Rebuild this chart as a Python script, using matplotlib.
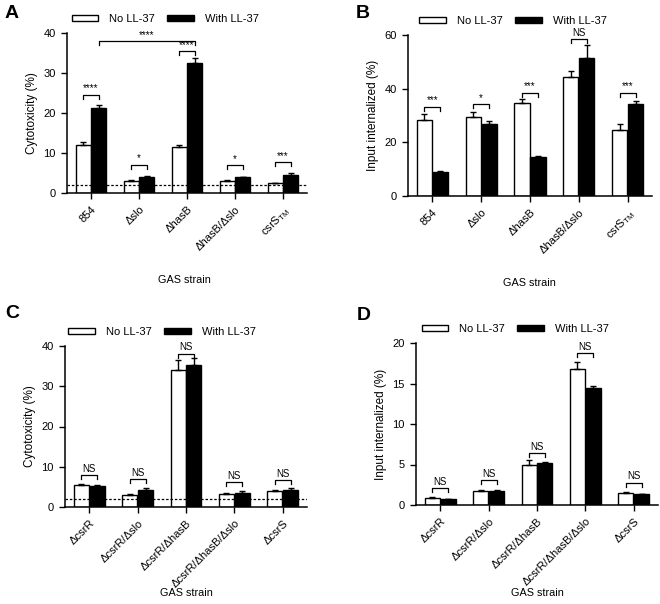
import numpy as np
import matplotlib
matplotlib.use("Agg")
from matplotlib import pyplot as plt
from matplotlib.patches import Patch

plt.rcParams["font.family"] = ["Liberation Sans", "DejaVu Sans"]
plt.rcParams["font.size"] = 7.5
plt.rcParams["axes.linewidth"] = 1.1

# Data
strains_ab = ["854", "Δslo", "ΔhasB", "ΔhasB/Δslo", "csrS$_{\\mathregular{TM}}$"]
strains_cd = ["ΔcsrR", "ΔcsrR/Δslo", "ΔcsrR/ΔhasB", "ΔcsrR/ΔhasB/Δslo", "ΔcsrS"]

a_no = [12.0, 3.1, 11.4, 3.1, 2.4]
a_no_err = [0.8, 0.2, 0.5, 0.2, 0.2]
a_with = [21.2, 4.0, 32.5, 3.9, 4.6]
a_with_err = [0.7, 0.2, 1.3, 0.2, 0.4]
a_sig = ["****", "*", "****", "*", "***"]
a_sig_y = [24.6, 7.1, 35.4, 6.9, 7.7]

b_no = [28.3, 29.6, 34.5, 44.5, 24.6]
b_no_err = [2.2, 1.7, 1.6, 2.0, 2.2]
b_with = [9.1, 26.7, 14.4, 51.5, 34.3]
b_with_err = [0.3, 1.1, 0.5, 4.6, 1.0]
b_sig = ["***", "*", "***", "NS", "***"]
b_sig_y = [33.3, 34.3, 38.5, 58.4, 38.5]

c_no = [5.5, 3.0, 34.0, 3.2, 4.0]
c_no_err = [0.2, 0.15, 2.4, 0.2, 0.1]
c_with = [5.2, 4.3, 35.2, 3.5, 4.3]
c_with_err = [0.2, 0.4, 1.8, 0.4, 0.4]
c_sig = ["NS", "NS", "NS", "NS", "NS"]
c_sig_y = [7.9, 7.0, 38.1, 6.2, 6.6]

d_no = [0.9, 1.7, 4.9, 16.8, 1.5]
d_no_err = [0.1, 0.1, 0.7, 0.8, 0.1]
d_with = [0.75, 1.75, 5.2, 14.4, 1.35]
d_with_err = [0.05, 0.1, 0.05, 0.3, 0.05]
d_sig = ["NS", "NS", "NS", "NS", "NS"]
d_sig_y = [2.06, 3.1, 6.4, 18.8, 2.76]

W, H = 660, 604
fig = plt.figure(figsize=(6.6, 6.04), dpi=100)


def add_axes(left, right, top, bottom):
    return fig.add_axes([left / W, 1 - bottom / H, (right - left) / W, (bottom - top) / H])


def bracket(ax, x1, x2, y, text, h):
    ax.plot([x1, x1, x2, x2], [y - h, y, y, y - h], color="black", lw=0.9)
    ax.text((x1 + x2) / 2, y + h * 0.3, text, ha="center", va="bottom", fontsize=7)


def panel(ax, labels, no, no_err, wi, wi_err, sig, sig_y, ymax, ystep, ylabel, dashed, leg_x):
    x = np.arange(len(labels))
    off = 0.165
    bw = 0.31
    ax.bar(x - off, no, bw, color="white", edgecolor="black", lw=1.0,
           yerr=[np.zeros(len(no)), no_err], capsize=2.5,
           error_kw=dict(elinewidth=1.0, capthick=1.0), zorder=2)
    ax.bar(x + off, wi, bw, color="black", edgecolor="black", lw=1.0,
           yerr=[np.zeros(len(wi)), wi_err], capsize=2.5,
           error_kw=dict(elinewidth=1.0, capthick=1.0), zorder=2)
    h = ymax * 0.025
    for i in range(len(labels)):
        bracket(ax, x[i] - off, x[i] + off, sig_y[i], sig[i], h)
    if dashed:
        ax.axhline(2.0, color="black", ls=(0, (2, 1.5)), lw=0.9, zorder=3)
    ax.set_xlim(-0.5, len(labels) - 0.5)
    ax.set_ylim(0, ymax)
    ax.set_yticks(np.arange(0, ymax + 0.1, ystep))
    ax.set_xticks(x)
    ax.set_xticklabels(labels, rotation=45, ha="right", rotation_mode="anchor")
    ax.spines["top"].set_visible(False)
    ax.spines["right"].set_visible(False)
    ax.tick_params(direction="out", length=4.5, width=1.0, labelsize=8)
    ax.set_ylabel(ylabel, fontsize=8.5)
    handles = [Patch(facecolor="white", edgecolor="black", lw=1.0, label="No LL-37"),
               Patch(facecolor="black", edgecolor="black", lw=1.0, label="With LL-37")]
    ax.legend(handles=handles, loc="lower center", bbox_to_anchor=(leg_x, 1.0), ncol=2,
              frameon=False, fontsize=8, handlelength=2.4, handleheight=0.45,
              columnspacing=1.1, handletextpad=1.0, borderaxespad=0.4)


axA = add_axes(67, 307, 33, 193)
panel(axA, strains_ab, a_no, a_no_err, a_with, a_with_err, a_sig, a_sig_y, 40, 10,
      "Cytotoxicity (%)", True, 0.41)
# long bracket 854 vs ΔhasB
axA.plot([0.165, 0.165, 2.165, 2.165], [37.0, 37.9, 37.9, 37.0], color="black", lw=0.9)
axA.text(1.165, 38.2, "****", ha="center", va="bottom", fontsize=7)

axB = add_axes(408, 652, 35, 196)
panel(axB, strains_ab, b_no, b_no_err, b_with, b_with_err, b_sig, b_sig_y, 60, 20,
      "Input internalized (%)", False, 0.43)

axC = add_axes(65, 307, 346, 507)
panel(axC, strains_cd, c_no, c_no_err, c_with, c_with_err, c_sig, c_sig_y, 40, 10,
      "Cytotoxicity (%)", True, 0.40)

axD = add_axes(416, 658, 343, 505)
panel(axD, strains_cd, d_no, d_no_err, d_with, d_with_err, d_sig, d_sig_y, 20, 5,
      "Input internalized (%)", False, 0.41)

fig.text(184 / W, 1 - 280 / H, "GAS strain", ha="center", va="center", fontsize=7.8)
fig.text(529 / W, 1 - 283 / H, "GAS strain", ha="center", va="center", fontsize=7.8)
fig.text(186 / W, 1 - 593 / H, "GAS strain", ha="center", va="center", fontsize=7.8)
fig.text(537 / W, 1 - 593 / H, "GAS strain", ha="center", va="center", fontsize=7.8)

for lab, px, py in [("A", 5, 13), ("B", 356, 13), ("C", 5, 313), ("D", 357, 315)]:
    fig.text(px / W, 1 - py / H, lab, fontsize=14, fontweight="bold", ha="left", va="center")

fig.savefig("out.png", dpi=100)
